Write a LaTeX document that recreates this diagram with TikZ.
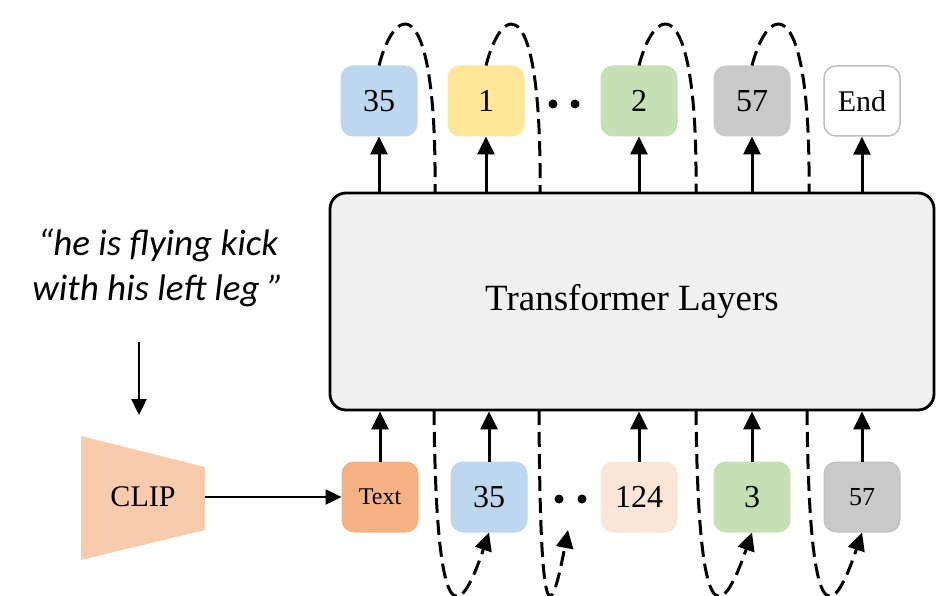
\documentclass[tikz,border=0pt]{standalone}
\usepackage{fontspec}
\setmainfont{Liberation Serif}
\newfontfamily\carl{Carlito}
\usetikzlibrary{arrows.meta}
\definecolor{cblue}{HTML}{BDD7EE}
\definecolor{cyellow}{HTML}{FFE699}
\definecolor{cgreen}{HTML}{C5E0B4}
\definecolor{cgray}{HTML}{C9C9C9}
\definecolor{cborder}{HTML}{BFBFBF}
\definecolor{corange}{HTML}{F4B183}
\definecolor{cpeach}{HTML}{FBE5D6}
\definecolor{cclip}{HTML}{F8CBAD}
\definecolor{boxgray}{HTML}{F0F0F0}
\begin{document}
\begin{tikzpicture}[x=1pt,y=-1pt,
  tok/.style={rounded corners=12pt,minimum width=76pt,minimum height=70pt,inner sep=0pt,font=\fontsize{32}{36}\selectfont,line width=1pt},
  tip/.style={-{Triangle[length=18pt,width=17pt]}},
  arr/.style={line width=3pt,tip},
  dsh/.style={line width=3pt,dash pattern=on 15pt off 7pt},
  dot/.style={circle,fill=black,inner sep=0pt,minimum size=9pt}]
\useasboundingbox (0,0) rectangle (938,596);

% transformer box
\node[draw,line width=2.8pt,fill=boxgray,rounded corners=16pt,minimum width=604pt,minimum height=217pt,font=\fontsize{37}{44}\selectfont] (tf) at (632,301.5) {Transformer Layers};

% top tokens
\node[tok,fill=cblue,draw=cblue] (t1) at (379,101) {35};
\node[tok,fill=cyellow,draw=cyellow] (t2) at (486,101) {1};
\node[tok,fill=cgreen,draw=cgreen] (t3) at (639,101) {2};
\node[tok,fill=cgray,draw=cgray] (t4) at (752,101) {57};
\node[tok,fill=white,draw=cborder,line width=1.5pt,font=\fontsize{30}{36}\selectfont] (t5) at (862,101) {End};
\node[dot] (td1) at (553,104) {};
\node[dot] (td2) at (575,104) {};

% bottom tokens
\node[tok,fill=corange,draw=corange,font=\fontsize{24}{28}\selectfont] (b1) at (380,497) {Text};
\node[tok,fill=cblue,draw=cblue] (b2) at (489,497) {35};
\node[tok,fill=cpeach,draw=cpeach] (b3) at (639,497) {124};
\node[tok,fill=cgreen,draw=cgreen] (b4) at (752,497) {3};
\node[tok,fill=cgray,draw=cborder,font=\fontsize{26}{30}\selectfont] (b5) at (862,497) {57};
\node[dot] (bd1) at (559,499) {};
\node[dot] (bd2) at (582,499) {};

% arrows up
\foreach \t in {t1,t2,t3,t4,t5}{\draw[arr] (\t.south |- tf.north) -- (\t.south);}
\foreach \b in {b1,b2,b3,b4,b5}{\draw[arr] (\b.north) -- (\b.north |- tf.south);}

% top dashed loops
\coordinate (e1) at (435,193);
\coordinate (e2) at (540,193);
\coordinate (e3) at (696,193);
\coordinate (e4) at (809,193);
\draw[dsh] (t1.north) .. controls (396,0) and (437,-8) .. (e1);
\draw[dsh] (t2.north) .. controls (503,0) and (542,-8) .. (e2);
\draw[dsh] (t3.north) .. controls (656,0) and (698,-8) .. (e3);
\draw[dsh] (t4.north) .. controls (769,0) and (811,-8) .. (e4);

% bottom dashed loops
\coordinate (s1) at (434,410);
\coordinate (s2) at (539,410);
\coordinate (s3) at (696,410);
\coordinate (s4) at (807,410);
\coordinate (g2) at (568,530);
\draw[dsh,tip] (s1) .. controls (436,630) and (458,625) .. (b2.south);
\draw[dsh,tip] (s2) .. controls (540,630) and (550,625) .. (g2);
\draw[dsh,tip] (s3) .. controls (698,630) and (720,625) .. (b4.south);
\draw[dsh,tip] (s4) .. controls (809,630) and (831,625) .. (b5.south);

% CLIP
\path[fill=cclip] (81,436) -- (205,467) -- (205,530) -- (81,560) -- cycle;
\node[font=\fontsize{30}{36}\selectfont] (clip) at (143,497) {CLIP};
\coordinate (clipR) at (205,497);
\draw[line width=2.5pt,-{Triangle[length=16pt,width=15pt]}] (clipR) -- (b1.west);

% quote
\node[font=\carl\itshape\fontsize{37}{45}\selectfont,align=center] (q) at (158,268) {“he is flying kick\\with his left leg ”};
\coordinate (qa) at (139,342);
\coordinate (qb) at (139,415);
\draw[line width=2.5pt,-{Triangle[length=16pt,width=15pt]}] (qa) -- (qb);
\end{tikzpicture}
\end{document}
